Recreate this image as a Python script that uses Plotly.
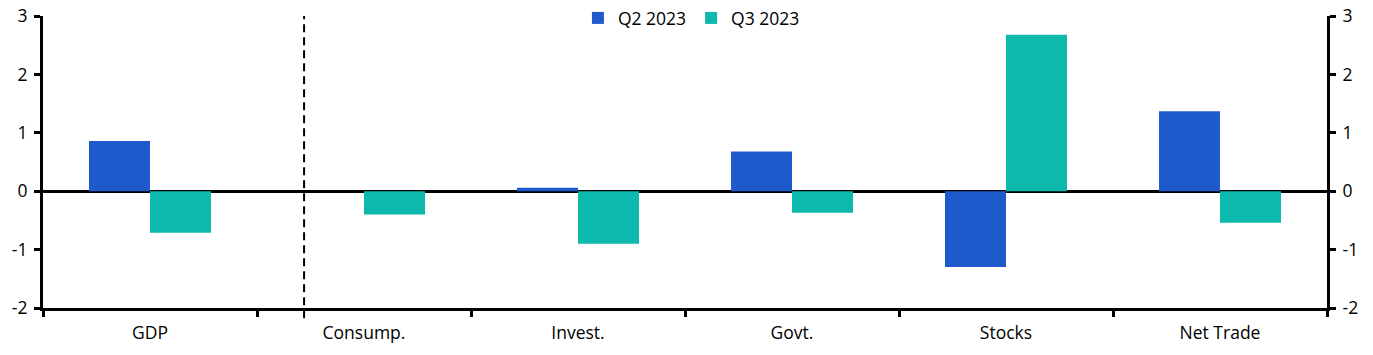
import plotly.graph_objects as go

categories = ["GDP", "Consump.", "Invest.", "Govt.", "Stocks", "Net Trade"]
q2_2023 = [0.86, 0.0, 0.06, 0.68, -1.30, 1.37]
q3_2023 = [-0.71, -0.40, -0.90, -0.37, 2.68, -0.54]
y_ticks = [-2, -1, 0, 1, 2, 3]
y_tick_labels = [str(v) for v in y_ticks]

BLUE = "#1F5ACC"
TEAL = "#0DB9AD"
FONT = "'Open Sans', 'Noto Sans', sans-serif"
FS = 17.5

fig = go.Figure()
fig.add_trace(go.Bar(x=categories, y=q2_2023, name="Q2 2023", marker_color=BLUE, marker_line_width=0))
fig.add_trace(go.Bar(x=categories, y=q3_2023, name="Q3 2023", marker_color=TEAL, marker_line_width=0))
# invisible trace to enable right-hand axis
fig.add_trace(go.Scatter(x=categories, y=q2_2023, yaxis="y2", mode="markers",
                         marker_opacity=0, showlegend=False, hoverinfo="skip"))

axis_common = dict(range=[-2, 3], tickvals=y_ticks, ticktext=y_tick_labels,
                   ticks="outside", ticklen=6, tickwidth=3,
                   tickcolor="black", showline=True, linewidth=3, linecolor="black",
                   showgrid=False, zeroline=True, zerolinewidth=3, zerolinecolor="black",
                   automargin=False, ticklabelstandoff=3, ticklabeloverflow="allow",
                   tickfont=dict(size=FS, color="black", family=FONT))

fig.update_layout(
    template="none",
    width=1373, height=355,
    margin=dict(l=43, r=46, t=16, b=47, autoexpand=False),
    plot_bgcolor="white", paper_bgcolor="white",
    barmode="group", bargap=0.43, bargroupgap=0,
    font=dict(family=FONT, size=FS, color="black"),
    legend=dict(orientation="h", x=0.505, xanchor="center", y=0.993, yanchor="middle",
                font=dict(size=FS), itemwidth=30, tracegroupgap=0, bgcolor="rgba(0,0,0,0)"),
    xaxis=dict(showline=True, linewidth=3, linecolor="black", ticks="outside",
               tickson="boundaries", ticklen=6, tickwidth=3, tickcolor="black",
               showgrid=False, automargin=False, ticklabelstandoff=7,
               tickfont=dict(size=FS, color="black")),
    yaxis=dict(side="left", **axis_common),
    yaxis2=dict(side="right", overlaying="y", **axis_common),
    showlegend=True,
)

fig.add_shape(type="line", xref="x", yref="paper", x0=0.72, x1=0.72, y0=-0.035, y1=1.0,
              line=dict(color="black", width=2, dash="8px,5px"))

fig.write_html("out.html", config={"displayModeBar": False},
               post_script="document.body.style.margin='0';")
